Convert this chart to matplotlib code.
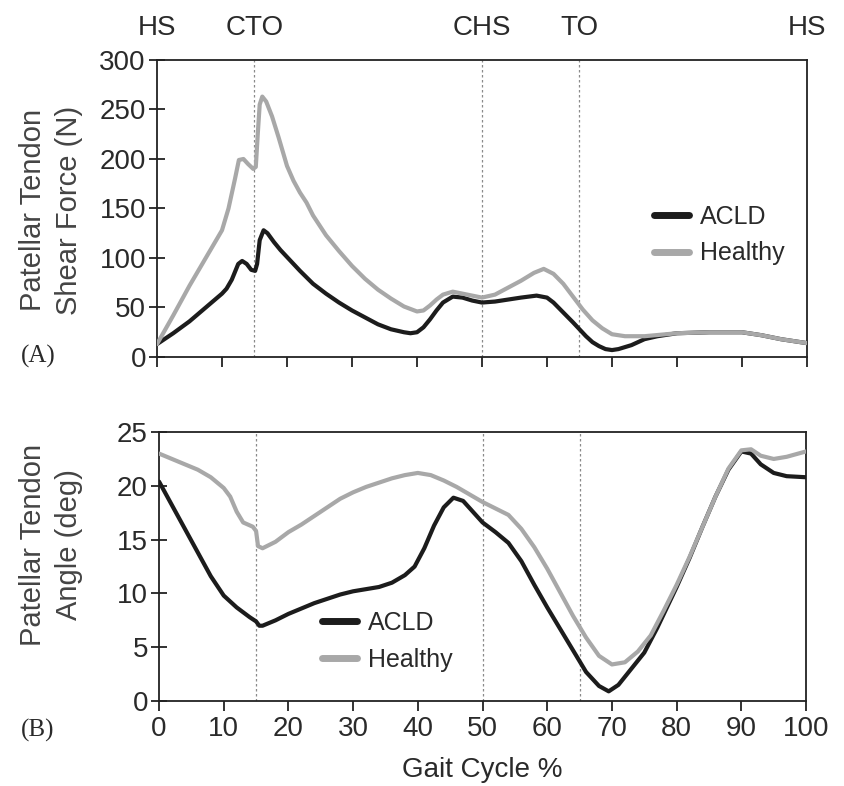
import matplotlib
matplotlib.use("Agg")
import matplotlib.pyplot as plt
from matplotlib.transforms import blended_transform_factory

plt.rcParams['font.family'] = ['Liberation Sans', 'DejaVu Sans']

# Gait events (percent of gait cycle)
event_pos = [0, 15, 50, 65, 100]
event_names = ["HS", "CTO", "CHS", "TO", "HS"]
event_lines = [15, 50, 65]

# (A) Patellar tendon shear force (N)
shear_acld_x = [0, 2.5, 5, 7.5, 10, 10.7, 11.5, 12.5, 13.1, 13.8, 14.5, 15.1, 15.4, 15.8, 16.4,
                17, 18, 19, 20, 22, 24, 26, 28, 30, 32, 34, 36, 38, 39, 40, 41, 42, 43, 44,
                45.5, 47, 48.5, 50, 52, 54, 56, 58.4, 60, 61, 62.5, 64, 65, 66, 67, 68, 69, 70,
                71, 73, 75, 77, 80, 85, 90, 93, 96, 100]
shear_acld_y = [13, 24, 36, 50, 64, 69, 78, 94, 97, 94, 88, 87, 94, 118, 128, 125, 116, 108, 101,
                87, 74, 64, 55, 47, 40, 33, 28, 25, 24, 25, 30, 38, 47, 55, 61, 60, 57, 55, 56,
                58, 60, 62, 60, 55, 45, 35, 28, 21, 15, 11, 8, 7, 8, 12, 18, 21, 24, 25, 25,
                22, 18, 14]
shear_healthy_x = [0, 2.5, 5, 7.5, 10, 11, 12, 12.6, 13.3, 14, 14.8, 15.2, 15.5, 15.8, 16.2, 16.8,
                   17.7, 18.7, 20, 21, 22, 23, 24, 26, 28, 30, 32, 34, 36, 38, 40, 41, 42, 43,
                   44, 45.5, 47, 48.5, 50, 52, 54, 56, 58, 59.5, 61, 62.5, 64, 65.5, 67, 68.5,
                   70, 72, 75, 80, 85, 90, 93, 96, 100]
shear_healthy_y = [13, 42, 72, 100, 128, 150, 180, 199, 200, 195, 190, 192, 225, 255, 263, 258,
                   243, 222, 193, 178, 166, 156, 143, 123, 107, 92, 79, 68, 59, 51, 46, 47, 52,
                   58, 63, 66, 64, 62, 60, 63, 70, 77, 85, 89, 84, 74, 61, 48, 37, 29, 23, 21,
                   21, 24, 25, 25, 22, 18, 14]

# (B) Patellar tendon angle (deg)
angle_acld_x = [0, 2, 4, 6, 8, 10, 12, 14, 15, 15.5, 16, 18, 20, 22, 24, 26, 28, 30, 32, 34, 36, 38,
                39.5, 41, 42.5, 44, 45.5, 47, 48.5, 50, 52, 54, 56, 58, 60, 62, 64, 66, 68, 69.5,
                71, 73, 75, 77, 80, 82, 84, 86, 88, 90, 91.5, 93, 95, 97, 100]
angle_acld_y = [20.4, 18.2, 16.0, 13.8, 11.6, 9.8, 8.7, 7.8, 7.4, 7.0, 7.0, 7.5, 8.1, 8.6, 9.1, 9.5,
                9.9, 10.2, 10.4, 10.6, 11.0, 11.7, 12.5, 14.2, 16.3, 18.0, 18.9, 18.6, 17.6, 16.6,
                15.7, 14.7, 13.0, 10.8, 8.7, 6.7, 4.7, 2.7, 1.4, 0.9, 1.5, 3.0, 4.5, 6.8, 10.6,
                13.3, 16.2, 19.0, 21.5, 23.2, 23.0, 22.0, 21.2, 20.9, 20.8]
angle_healthy_x = [0, 2, 4, 6, 8, 10, 11, 12, 13, 14.5, 15, 15.3, 16, 18, 20, 22, 24, 26, 28, 30, 32,
                   34, 36, 38, 40, 42, 44, 46, 48, 50, 52, 54, 56, 58, 60, 62, 64, 66, 68, 70, 72,
                   74, 76, 78, 80, 82, 84, 86, 88, 90, 91.5, 93, 95, 97, 100]
angle_healthy_y = [23.0, 22.5, 22.0, 21.5, 20.8, 19.8, 19.0, 17.6, 16.6, 16.2, 15.8, 14.4, 14.2, 14.8,
                   15.7, 16.4, 17.2, 18.0, 18.8, 19.4, 19.9, 20.3, 20.7, 21.0, 21.2, 21.0, 20.5,
                   19.9, 19.2, 18.5, 17.9, 17.3, 16.0, 14.3, 12.3, 10.1, 7.9, 5.9, 4.2, 3.4, 3.6,
                   4.6, 6.1, 8.4, 10.8, 13.4, 16.2, 19.0, 21.6, 23.3, 23.4, 22.8, 22.5, 22.7, 23.2]

series_labels = ["ACLD", "Healthy"]
x_ticks = list(range(0, 101, 10))
shear_ticks = list(range(0, 301, 50))
angle_ticks = list(range(0, 26, 5))

TXT = "#2a2a2a"
ACLD_C = "#1c1c1c"
HEALTHY_C = "#a8a8a8"
FS = 20

fig = plt.figure(figsize=(8.45, 7.86), dpi=100)
ax1 = fig.add_axes([0.1858, 0.5458, 0.7692, 0.3779])
ax2 = fig.add_axes([0.1882, 0.1081, 0.7657, 0.3422])


def style_axes(ax, yticks, ylim):
    ax.set_xlim(0, 100)
    ax.set_ylim(*ylim)
    ax.set_xticks(x_ticks)
    ax.set_yticks(yticks)
    for s in ax.spines.values():
        s.set_linewidth(1.3)
        s.set_color("#222222")
    ax.tick_params(axis='y', direction='inout', length=12, width=1.3, colors="#222222",
                   labelsize=FS, labelcolor=TXT, pad=2)
    ax.tick_params(axis='x', direction='out', length=7, width=1.3, colors="#222222",
                   labelsize=FS, labelcolor=TXT, pad=4)
    for xv in event_lines:
        ax.axvline(xv, color="#8a8a8a", lw=0.9, ls=(0, (2, 2)), zorder=1)


style_axes(ax1, shear_ticks, (0, 300))
style_axes(ax2, angle_ticks, (0, 25))
ax1.tick_params(axis='x', labelbottom=False)

line_kw = dict(lw=3.0, solid_joinstyle='round', solid_capstyle='round')
ax1.plot(shear_acld_x, shear_acld_y, color=ACLD_C, label=series_labels[0], zorder=3, **line_kw)
ax1.plot(shear_healthy_x, shear_healthy_y, color=HEALTHY_C, label=series_labels[1], zorder=4,
         **line_kw)
ax2.plot(angle_acld_x, angle_acld_y, color=ACLD_C, label=series_labels[0], zorder=3, **line_kw)
ax2.plot(angle_healthy_x, angle_healthy_y, color=HEALTHY_C, label=series_labels[1], zorder=4,
         **line_kw)

# Gait event names above panel A
trans = blended_transform_factory(ax1.transData, ax1.transAxes)
for xv, name in zip(event_pos, event_names):
    ax1.text(xv, 1.108, name, transform=trans, ha='center', va='center', fontsize=FS, color=TXT)

leg_kw = dict(frameon=False, fontsize=18, handlelength=1.4, handletextpad=0.45,
              labelspacing=0.5, borderpad=0, borderaxespad=0, loc='center left')
leg1 = ax1.legend(bbox_to_anchor=(0.764, 0.41), **leg_kw)
leg2 = ax2.legend(bbox_to_anchor=(0.252, 0.222), **leg_kw)
for leg in (leg1, leg2):
    for t in leg.get_texts():
        t.set_color(TXT)
    for h in leg.get_lines():
        h.set_linewidth(5)

fig.text(51 / 845, 1 - 210 / 786, "Patellar Tendon\nShear Force (N)", rotation=90,
         ha='center', va='center', fontsize=21, color="#444444", linespacing=1.35)
fig.text(51 / 845, 1 - 545 / 786, "Patellar Tendon\nAngle (deg)", rotation=90,
         ha='center', va='center', fontsize=21, color="#444444", linespacing=1.35)
fig.text(482 / 845, 1 - 770 / 786, "Gait Cycle %", ha='center', va='center',
         fontsize=FS, color=TXT)

serif = ['Liberation Serif', 'DejaVu Serif']
fig.text(38 / 845, 1 - 356 / 786, "(A)", ha='center', va='center', fontsize=18,
         color=TXT, family=serif)
fig.text(38 / 845, 1 - 730 / 786, "(B)", ha='center', va='center', fontsize=18,
         color=TXT, family=serif)

fig.savefig("out.png", dpi=100)
